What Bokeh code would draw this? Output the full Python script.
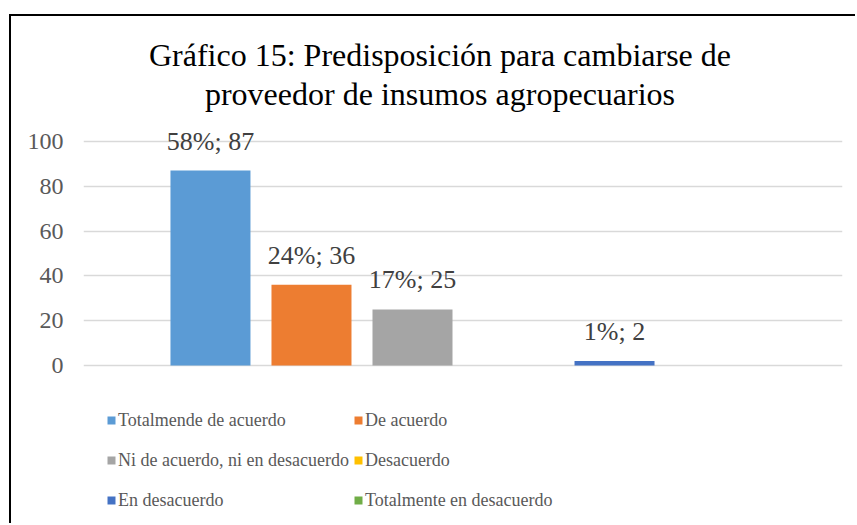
from bokeh.plotting import figure
from bokeh.models import (ColumnDataSource, FixedTicker, Range1d, Label, Legend,
                          LegendItem)
from bokeh.core.properties import value
from bokeh.embed import file_html
from bokeh.resources import INLINE

# ---- data ----
categories = ["Totalmende de acuerdo", "De acuerdo",
              "Ni de acuerdo, ni en desacuerdo", "Desacuerdo",
              "En desacuerdo", "Totalmente en desacuerdo"]
counts = [87, 36, 25, 0, 2, 0]
percents = [58, 24, 17, 0, 1, 0]
colors = ["#5B9BD5", "#ED7D31", "#A5A5A5", "#FFC000", "#4472C4", "#70AD47"]
y_ticks = [0, 20, 40, 60, 80, 100]
title_lines = ["Gráfico 15: Predisposición para cambiarse de",
               "proveedor de insumos agropecuarios"]

FONT = "Liberation Serif"

labels = [f"{p}%; {c}" if c else "" for p, c in zip(percents, counts)]
xs = list(range(len(categories)))

src = ColumnDataSource(dict(x=xs, top=counts, color=colors, cat=categories, lab=labels))

p = figure(width=846, height=509, output_backend="svg", toolbar_location=None,
           x_axis_location=None,
           x_range=Range1d(-1.257, 6.257), y_range=Range1d(-71.43, 155.8),
           min_border_left=72, min_border_right=15, min_border_top=0, min_border_bottom=0)
p.styles = {"margin-left": "9px", "margin-top": "14px",
            "border-left": "2px solid black", "border-top": "2px solid black"}
p.outline_line_color = None
p.background_fill_color = "white"
p.border_fill_color = "white"

# grid / axis
p.xgrid.visible = False
p.yaxis.ticker = FixedTicker(ticks=y_ticks)
p.ygrid.ticker = FixedTicker(ticks=y_ticks)
p.ygrid.grid_line_color = "#D9D9D9"
p.ygrid.grid_line_width = 1.5
p.yaxis.axis_line_color = None
p.yaxis.major_tick_line_color = None
p.yaxis.minor_tick_line_color = None
p.yaxis.major_tick_out = 0
p.yaxis.major_tick_in = 0
p.yaxis.major_label_standoff = 20
p.yaxis.major_label_text_font = FONT
p.yaxis.major_label_text_font_size = "24px"
p.yaxis.major_label_text_color = "#595959"

# bars
renderers = []
for i in range(len(categories)):
    r = p.vbar(x=[xs[i]], top=[counts[i]], bottom=0, width=0.792,
               fill_color=colors[i], line_color=None)
    renderers.append(r)

# data labels
p.text(x="x", y="top", text="lab", source=src, text_align="center",
       text_baseline="bottom", y_offset=-15, text_font=value(FONT),
       text_font_size="26px", text_color="#404040")

# title
for line, yy in zip(title_lines, [471, 432]):
    p.add_layout(Label(x=356.5, y=yy, x_units="screen", y_units="screen", text=line,
                       text_align="center", text_baseline="alphabetic",
                       text_font=FONT, text_font_size="32px", text_color="#000000"))

# legend
items = [LegendItem(label=c, renderers=[r]) for c, r in zip(categories, renderers)]
legend = Legend(items=items, location=(23, 7), orientation="horizontal", ncols=2,
                label_text_font=FONT, label_text_font_size="18px",
                label_text_color="#595959", glyph_width=10, glyph_height=10,
                label_standoff=2, label_height=36, spacing=4, padding=5,
                border_line_color=None, background_fill_alpha=0)
p.add_layout(legend)

open("out.html", "w").write(file_html(p, INLINE))
